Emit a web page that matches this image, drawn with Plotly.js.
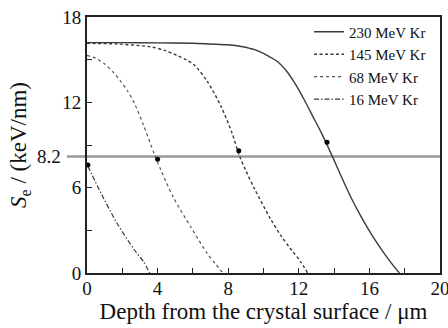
<!DOCTYPE html>
<html>
<head>
<meta charset="utf-8">
<script src="https://cdn.plot.ly/plotly-3.0.1.min.js"></script>
<style>html,body{margin:0;padding:0;background:#fff;}#chart{width:448px;height:328px;}</style>
</head>
<body>
<div id="chart"></div>
<script>
// 230 MeV Kr
const x230 = [0, 2, 4, 6, 7, 8, 8.75, 9.5, 10.2, 10.8, 11.3, 11.8, 12.3, 12.8, 13.3, 13.9, 14.4, 15.0, 15.6, 16.1, 16.6, 17.0, 17.4, 17.7];
const y230 = [16.2, 16.2, 16.18, 16.15, 16.1, 16.05, 15.93, 15.7, 15.3, 14.85, 14.2, 13.3, 12.2, 11.0, 9.8, 8.2, 6.8, 5.2, 3.8, 2.75, 1.8, 1.1, 0.45, 0];
// 145 MeV Kr
const x145 = [0, 1.7, 3.6, 4.4, 5.1, 5.6, 6.1, 6.8, 7.6, 8.2, 8.65, 9.0, 9.5, 10.4, 11.0, 11.6, 12.1, 12.5];
const y145 = [16.15, 16.1, 15.9, 15.65, 15.3, 15.0, 14.6, 13.5, 11.7, 9.9, 8.2, 7.2, 5.9, 3.8, 2.6, 1.6, 0.8, 0];
// 68 MeV Kr
const x68 = [0, 0.5, 1.0, 1.5, 1.9, 2.3, 2.7, 3.2, 3.8, 4.2, 4.9, 5.9, 6.8, 7.3, 7.7];
const y68 = [15.3, 15.1, 14.7, 14.1, 13.5, 12.8, 11.9, 10.4, 8.4, 7.2, 5.3, 3.2, 1.4, 0.6, 0];
// 16 MeV Kr
const x16 = [0.05, 0.8, 1.7, 2.7, 3.2, 3.55];
const y16 = [7.5, 5.6, 3.5, 1.6, 0.8, 0];
// threshold points
const xDots = [0.05, 4.0, 8.6, 13.6];
const yDots = [7.6, 8.0, 8.6, 9.2];
const threshold = 8.2;
const names = ['230 MeV Kr', '145 MeV Kr', '68 MeV Kr', '16 MeV Kr'];
const yTickVals = [0, 3, 6, 9, 12, 15, 18];
const yTickText = ['0', '', '6', '', '12', '', '18'];
const xTickVals = [0, 2, 4, 6, 8, 10, 12, 14, 16, 18, 20];
const xTickText = ['0', '', '4', '', '8', '', '12', '', '16', '', '20'];

const lc = '#3a3a3a';
const font = '"Liberation Serif", "Times New Roman", serif';
const traces = [
  {x: x230, y: y230, name: names[0], mode: 'lines', line: {color: lc, width: 1.4, dash: 'solid', shape: 'spline', smoothing: 0.8}},
  {x: x145, y: y145, name: names[1], mode: 'lines', line: {color: lc, width: 1.4, dash: '3px,2.5px', shape: 'spline', smoothing: 0.8}},
  {x: x68, y: y68, name: names[2], mode: 'lines', line: {color: '#555', width: 1.2, dash: 'dot', shape: 'spline', smoothing: 0.8}},
  {x: x16, y: y16, name: names[3], mode: 'lines', line: {color: lc, width: 1.2, dash: '5px,2px,1.5px,2px', shape: 'spline', smoothing: 0.8}},
  {x: xDots, y: yDots, mode: 'markers', marker: {color: '#000', size: 5}, showlegend: false, hoverinfo: 'skip'}
];
const layout = {
  width: 448, height: 328,
  margin: {l: 87, r: 8, t: 17, b: 55},
  paper_bgcolor: '#fff', plot_bgcolor: '#fff',
  font: {family: font, color: '#111', size: 18},
  showlegend: true,
  legend: {x: 0.629, y: 1.006, xanchor: 'left', yanchor: 'top', bgcolor: 'rgba(0,0,0,0)', font: {family: font, size: 15, color: '#111'}, tracegroupgap: 0},
  xaxis: {range: [0, 20], tickvals: xTickVals, ticktext: xTickText, ticks: 'inside', ticklen: 5, tickwidth: 1, tickcolor: '#222',
    showline: true, linecolor: '#222', linewidth: 2, mirror: true, showgrid: false, zeroline: false, ticklabeloverflow: 'allow',
    ticklabelstandoff: -3,
    tickfont: {family: font, size: 19}, title: {text: 'Depth from the crystal surface / μm', font: {family: font, size: 23}, standoff: 4}},
  yaxis: {range: [0, 18], tickvals: yTickVals, ticktext: yTickText, ticks: 'inside', ticklen: 5, tickwidth: 1, tickcolor: '#222',
    showline: true, linecolor: '#222', linewidth: 2, mirror: true, showgrid: false, zeroline: false,
    tickfont: {family: font, size: 19}, title: {text: '<i>S</i><sub>e</sub> / (keV/nm)', font: {family: font, size: 23}, standoff: 29}},
  shapes: [{type: 'line', xref: 'paper', yref: 'y', x0: -0.057, x1: 1, y0: threshold, y1: threshold, line: {color: '#9a9a9a', width: 2.5}, layer: 'below'}],
  annotations: [{xref: 'paper', yref: 'y', x: -0.068, y: threshold, text: String(threshold), showarrow: false, xanchor: 'right', yanchor: 'middle', font: {family: font, size: 19, color: '#111'}}]
};
Plotly.newPlot('chart', traces, layout, {displayModeBar: false, staticPlot: true});
</script>
</body>
</html>
